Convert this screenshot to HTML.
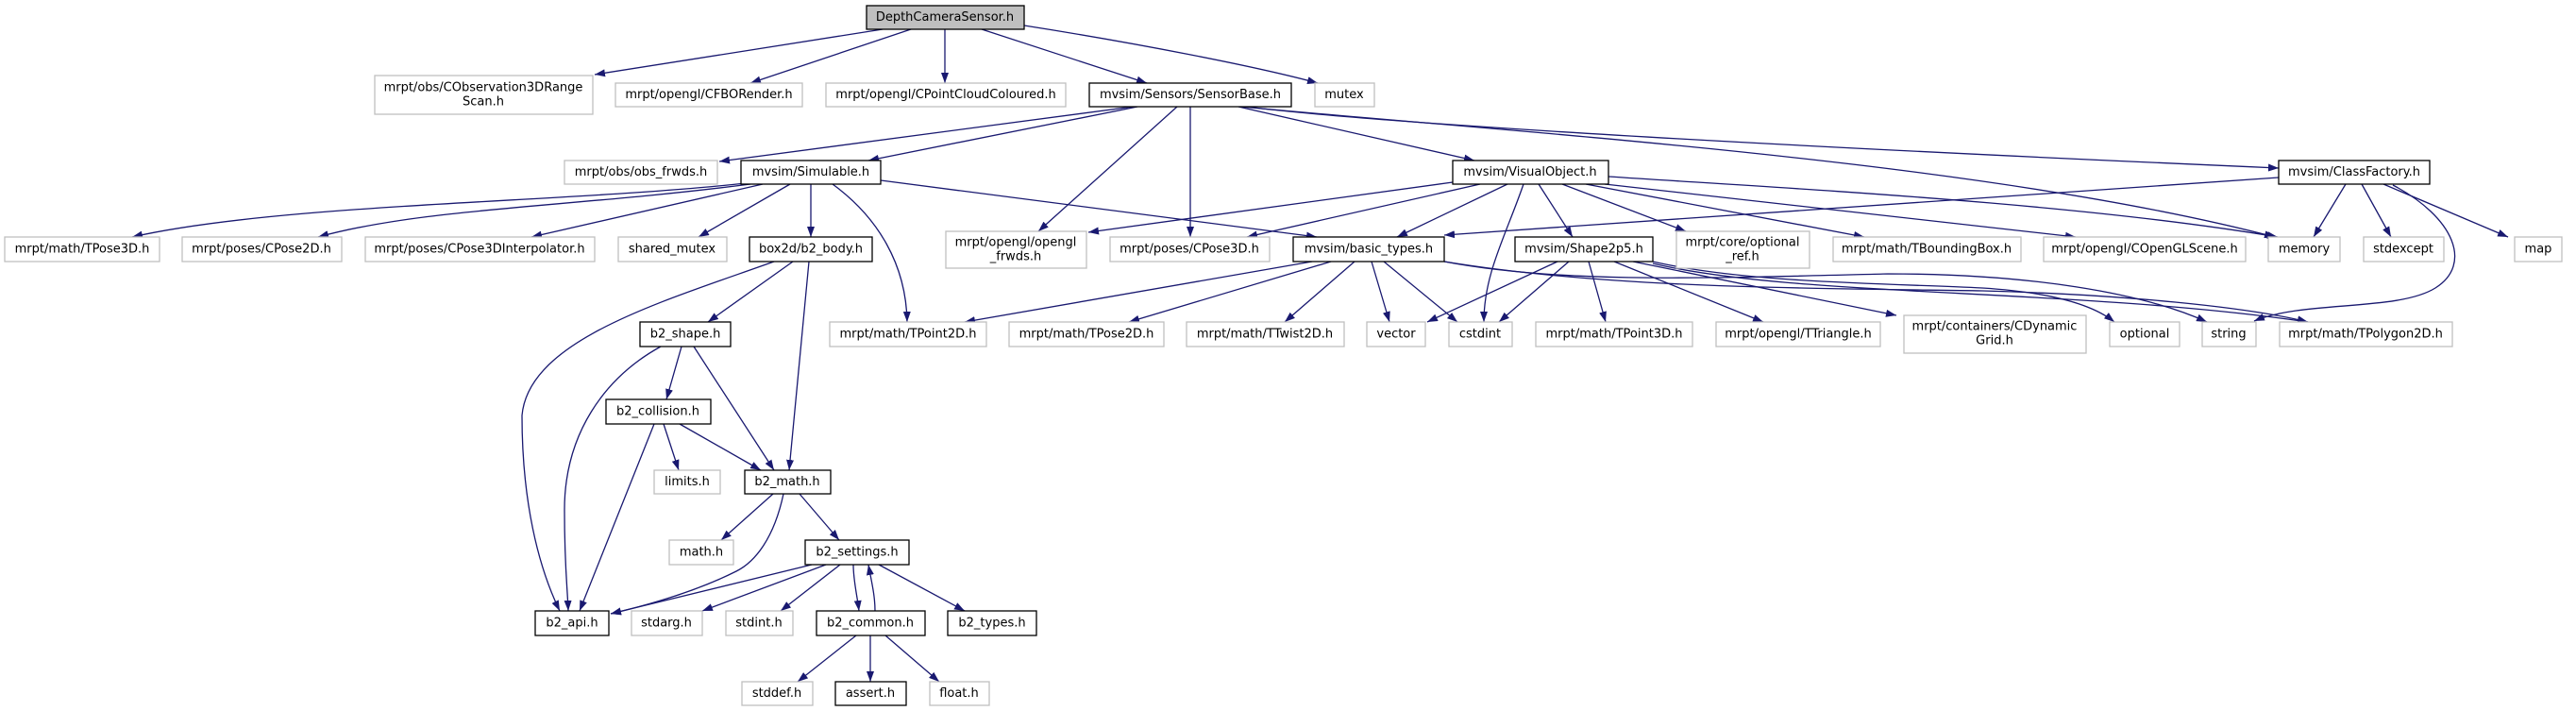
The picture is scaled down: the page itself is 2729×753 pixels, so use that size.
<!DOCTYPE html>
<html><head><meta charset="utf-8"><style>
html,body{margin:0;padding:0;background:#fff;}
svg{display:block;}
text{font-family:"DejaVu Sans","Liberation Sans",sans-serif;font-size:13px;fill:#000;text-anchor:middle;dominant-baseline:central;}
.g{fill:#fff;stroke:#bfbfbf;stroke-width:1.3;}
.b{fill:#fff;stroke:#000;stroke-width:1.3;}
.r{fill:#bfbfbf;stroke:#000;stroke-width:1.3;}
path.e{fill:none;stroke:#191970;stroke-width:1.3;marker-end:url(#a);}
</style></head><body>
<svg width="2729" height="753" viewBox="0 0 2729 753" xmlns="http://www.w3.org/2000/svg">
<defs><marker id="a" markerUnits="userSpaceOnUse" markerWidth="11" markerHeight="8" refX="11" refY="4" orient="auto"><path d="M0,0 L11,4 L0,8 z" fill="#191970"/></marker></defs>

<!-- edges -->
<path class="e" d="M935 31 L630 79"/>
<path class="e" d="M965 31 L795 88"/>
<path class="e" d="M1001 31 L1001 88"/>
<path class="e" d="M1040 31 L1215 88"/>
<path class="e" d="M1085 27 C1200 45,1330 70,1396 88"/>
<path class="e" d="M1200 113 L762 171"/>
<path class="e" d="M1205 113 L920 170"/>
<path class="e" d="M1247 113 L1100 245"/>
<path class="e" d="M1261 113 L1261 251"/>
<path class="e" d="M1312 113 L1562 170"/>
<path class="e" d="M1320 113 C1500 135,2000 160,2414 178"/>
<path class="e" d="M1315 113 C1600 140,2100 170,2410 251"/>
<path class="e" d="M790 194 C600 215,300 215,140 251"/>
<path class="e" d="M795 195 C600 220,450 220,337 251"/>
<path class="e" d="M808 195 L563 251"/>
<path class="e" d="M837 195 L740 251"/>
<path class="e" d="M859 195 L859 251"/>
<path class="e" d="M882 195 C930 230,960 280,961 341"/>
<path class="e" d="M933 191 L1395 251"/>
<path class="e" d="M820 277 C700 320,560 360,553 440 C553 530,570 600,593 647"/>
<path class="e" d="M840 277 L750 341"/>
<path class="e" d="M857 277 L836 498"/>
<path class="e" d="M700 367 C640 400,598 460,598 540 C598 600,601 620,602 647"/>
<path class="e" d="M722 367 L706 423"/>
<path class="e" d="M735 367 L820 498"/>
<path class="e" d="M693 449 L614 647"/>
<path class="e" d="M703 449 L719 498"/>
<path class="e" d="M720 449 L806 498"/>
<path class="e" d="M819 523 L764 572"/>
<path class="e" d="M830 523 C820 570,800 595,780 605 C740 625,690 640,647 650"/>
<path class="e" d="M847 523 L889 572"/>
<path class="e" d="M860 598 L647 650"/>
<path class="e" d="M875 598 L744 647"/>
<path class="e" d="M890 598 L827 647"/>
<path class="e" d="M904 598 C904 615,908 630,910 647"/>
<path class="e" d="M927 647 C927 630,923 615,920 598"/>
<path class="e" d="M931 598 L1022 647"/>
<path class="e" d="M907 673 L845 722"/>
<path class="e" d="M922 673 L922 722"/>
<path class="e" d="M938 673 L995 722"/>
<path class="e" d="M1539 193 L1153 246"/>
<path class="e" d="M1568 195 L1321 251"/>
<path class="e" d="M1597 195 L1480 251"/>
<path class="e" d="M1614 195 C1595 250,1572 290,1572 341"/>
<path class="e" d="M1630 195 L1666 251"/>
<path class="e" d="M1655 195 L1786 245"/>
<path class="e" d="M1680 195 L1975 251"/>
<path class="e" d="M1700 195 L2199 251"/>
<path class="e" d="M1704 187 C1900 200,2200 215,2413 251"/>
<path class="e" d="M2414 188 L1530 249"/>
<path class="e" d="M2485 195 L2451 251"/>
<path class="e" d="M2502 195 L2533 251"/>
<path class="e" d="M2525 195 L2657 251"/>
<path class="e" d="M2535 196 C2600 230,2620 280,2580 305 C2540 330,2440 318,2388 340"/>
<path class="e" d="M1390 277 L1022 341"/>
<path class="e" d="M1410 277 L1196 341"/>
<path class="e" d="M1435 277 L1361 341"/>
<path class="e" d="M1453 277 L1472 341"/>
<path class="e" d="M1466 277 L1544 341"/>
<path class="e" d="M1530 277 C1650 300,1800 295,2000 290 C2150 290,2270 310,2338 341"/>
<path class="e" d="M1530 277 C1700 305,1900 305,2100 308 C2250 312,2380 325,2445 341"/>
<path class="e" d="M1751 277 C1850 300,2000 300,2100 305 C2180 310,2220 325,2240 341"/>
<path class="e" d="M1751 279 C1900 315,2200 305,2445 341"/>
<path class="e" d="M1650 277 L1512 341"/>
<path class="e" d="M1662 277 L1588 341"/>
<path class="e" d="M1683 277 L1701 341"/>
<path class="e" d="M1710 277 L1868 341"/>
<path class="e" d="M1730 277 L2009 334"/>

<!-- nodes -->
<rect class="r" x="918" y="6" width="167" height="25"/><text x="1001" y="18.5">DepthCameraSensor.h</text>
<rect class="g" x="397" y="80" width="231" height="41"/><text x="512" y="93">mrpt/obs/CObservation3DRange</text><text x="512" y="108">Scan.h</text>
<rect class="g" x="652" y="88" width="198" height="25"/><text x="751" y="100.5">mrpt/opengl/CFBORender.h</text>
<rect class="g" x="875" y="88" width="254" height="25"/><text x="1002" y="100.5">mrpt/opengl/CPointCloudColoured.h</text>
<rect class="b" x="1154" y="88" width="214" height="25"/><text x="1261" y="100.5">mvsim/Sensors/SensorBase.h</text>
<rect class="g" x="1393" y="88" width="63" height="25"/><text x="1424" y="100.5">mutex</text>
<rect class="g" x="598" y="170" width="162" height="25"/><text x="679" y="182.5">mrpt/obs/obs_frwds.h</text>
<rect class="b" x="785" y="170" width="148" height="25"/><text x="859" y="182.5">mvsim/Simulable.h</text>
<rect class="b" x="1539" y="170" width="165" height="25"/><text x="1621" y="182.5">mvsim/VisualObject.h</text>
<rect class="b" x="2414" y="170" width="160" height="25"/><text x="2494" y="182.5">mvsim/ClassFactory.h</text>
<rect class="g" x="5" y="251" width="164" height="26"/><text x="87" y="264">mrpt/math/TPose3D.h</text>
<rect class="g" x="193" y="251" width="169" height="26"/><text x="277" y="264">mrpt/poses/CPose2D.h</text>
<rect class="g" x="387" y="251" width="243" height="26"/><text x="508" y="264">mrpt/poses/CPose3DInterpolator.h</text>
<rect class="g" x="655" y="251" width="115" height="26"/><text x="712" y="264">shared_mutex</text>
<rect class="b" x="794" y="251" width="130" height="26"/><text x="859" y="264">box2d/b2_body.h</text>
<rect class="g" x="1002" y="245" width="149" height="39"/><text x="1076" y="257">mrpt/opengl/opengl</text><text x="1076" y="272">_frwds.h</text>
<rect class="g" x="1176" y="251" width="169" height="26"/><text x="1260" y="264">mrpt/poses/CPose3D.h</text>
<rect class="b" x="1370" y="251" width="160" height="26"/><text x="1450" y="264">mvsim/basic_types.h</text>
<rect class="b" x="1605" y="251" width="146" height="26"/><text x="1678" y="264">mvsim/Shape2p5.h</text>
<rect class="g" x="1776" y="245" width="141" height="39"/><text x="1846" y="257">mrpt/core/optional</text><text x="1846" y="272">_ref.h</text>
<rect class="g" x="1942" y="251" width="199" height="26"/><text x="2041" y="264">mrpt/math/TBoundingBox.h</text>
<rect class="g" x="2165" y="251" width="214" height="26"/><text x="2272" y="264">mrpt/opengl/COpenGLScene.h</text>
<rect class="g" x="2403" y="251" width="76" height="26"/><text x="2441" y="264">memory</text>
<rect class="g" x="2504" y="251" width="85" height="26"/><text x="2546" y="264">stdexcept</text>
<rect class="g" x="2664" y="251" width="50" height="26"/><text x="2689" y="264">map</text>
<rect class="b" x="678" y="341" width="96" height="26"/><text x="726" y="354">b2_shape.h</text>
<rect class="g" x="879" y="341" width="166" height="26"/><text x="962" y="354">mrpt/math/TPoint2D.h</text>
<rect class="g" x="1069" y="341" width="164" height="26"/><text x="1151" y="354">mrpt/math/TPose2D.h</text>
<rect class="g" x="1257" y="341" width="167" height="26"/><text x="1340" y="354">mrpt/math/TTwist2D.h</text>
<rect class="g" x="1448" y="341" width="62" height="26"/><text x="1479" y="354">vector</text>
<rect class="g" x="1535" y="341" width="67" height="26"/><text x="1568" y="354">cstdint</text>
<rect class="g" x="1627" y="341" width="166" height="26"/><text x="1710" y="354">mrpt/math/TPoint3D.h</text>
<rect class="g" x="1818" y="341" width="174" height="26"/><text x="1905" y="354">mrpt/opengl/TTriangle.h</text>
<rect class="g" x="2017" y="334" width="193" height="40"/><text x="2113" y="346">mrpt/containers/CDynamic</text><text x="2113" y="361">Grid.h</text>
<rect class="g" x="2235" y="341" width="74" height="26"/><text x="2272" y="354">optional</text>
<rect class="g" x="2333" y="341" width="57" height="26"/><text x="2361" y="354">string</text>
<rect class="g" x="2415" y="341" width="183" height="26"/><text x="2506" y="354">mrpt/math/TPolygon2D.h</text>
<rect class="b" x="642" y="423" width="111" height="26"/><text x="697" y="436">b2_collision.h</text>
<rect class="g" x="693" y="498" width="70" height="25"/><text x="728" y="510.5">limits.h</text>
<rect class="b" x="789" y="498" width="91" height="25"/><text x="834" y="510.5">b2_math.h</text>
<rect class="g" x="709" y="572" width="68" height="26"/><text x="743" y="585">math.h</text>
<rect class="b" x="853" y="572" width="110" height="26"/><text x="908" y="585">b2_settings.h</text>
<rect class="b" x="567" y="647" width="78" height="26"/><text x="606" y="660">b2_api.h</text>
<rect class="g" x="669" y="647" width="75" height="26"/><text x="706" y="660">stdarg.h</text>
<rect class="g" x="769" y="647" width="71" height="26"/><text x="804" y="660">stdint.h</text>
<rect class="b" x="865" y="647" width="115" height="26"/><text x="922" y="660">b2_common.h</text>
<rect class="b" x="1004" y="647" width="94" height="26"/><text x="1051" y="660">b2_types.h</text>
<rect class="g" x="786" y="722" width="75" height="25"/><text x="823" y="734.5">stddef.h</text>
<rect class="b" x="885" y="722" width="75" height="25"/><text x="922" y="734.5">assert.h</text>
<rect class="g" x="985" y="722" width="63" height="25"/><text x="1016" y="734.5">float.h</text>
</svg>
</body></html>
